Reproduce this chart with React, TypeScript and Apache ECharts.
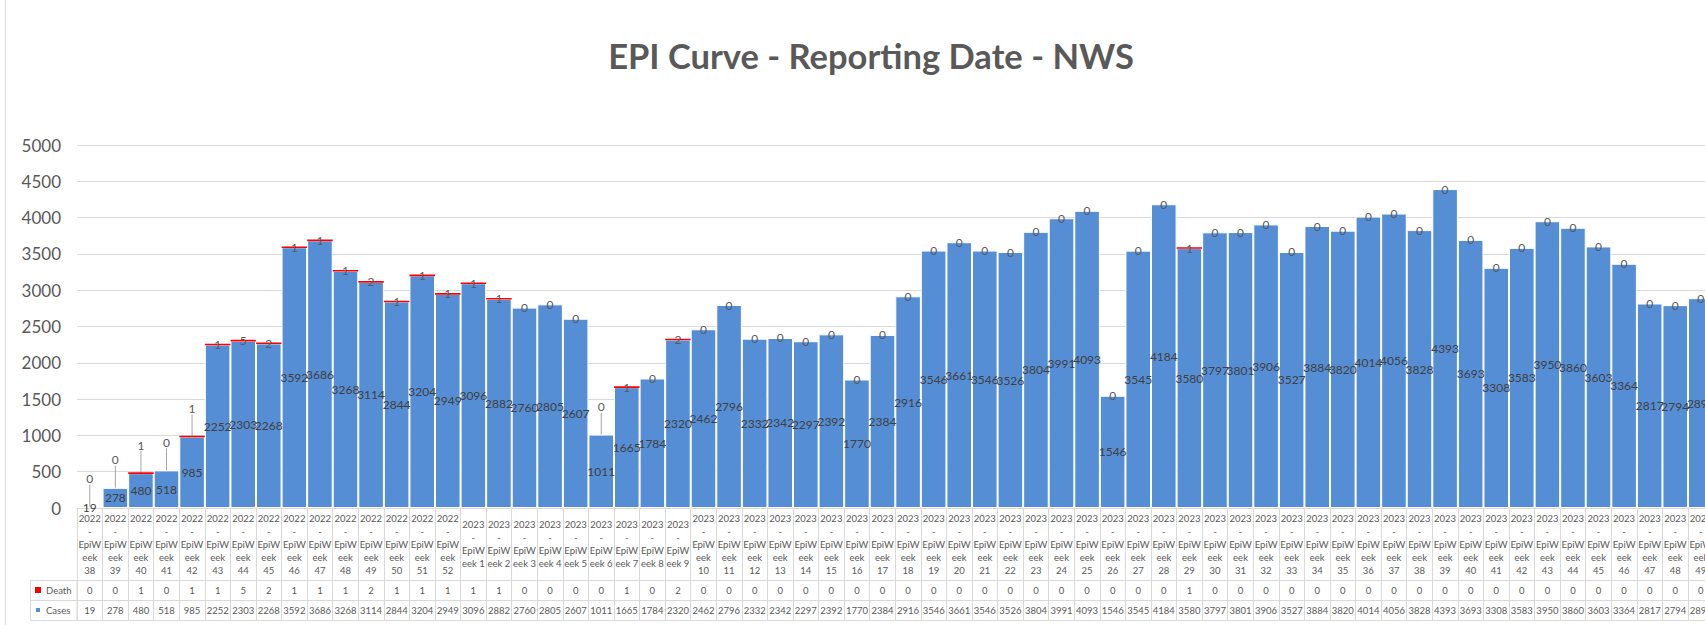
import React, { useEffect, useRef } from "react";
import * as echarts from "echarts";

const categories: string[] = [
  "2022-EpiWeek 38", "2022-EpiWeek 39", "2022-EpiWeek 40", "2022-EpiWeek 41", "2022-EpiWeek 42",
  "2022-EpiWeek 43", "2022-EpiWeek 44", "2022-EpiWeek 45", "2022-EpiWeek 46", "2022-EpiWeek 47",
  "2022-EpiWeek 48", "2022-EpiWeek 49", "2022-EpiWeek 50", "2022-EpiWeek 51", "2022-EpiWeek 52",
  "2023-EpiWeek 1", "2023-EpiWeek 2", "2023-EpiWeek 3", "2023-EpiWeek 4", "2023-EpiWeek 5",
  "2023-EpiWeek 6", "2023-EpiWeek 7", "2023-EpiWeek 8", "2023-EpiWeek 9", "2023-EpiWeek 10",
  "2023-EpiWeek 11", "2023-EpiWeek 12", "2023-EpiWeek 13", "2023-EpiWeek 14", "2023-EpiWeek 15",
  "2023-EpiWeek 16", "2023-EpiWeek 17", "2023-EpiWeek 18", "2023-EpiWeek 19", "2023-EpiWeek 20",
  "2023-EpiWeek 21", "2023-EpiWeek 22", "2023-EpiWeek 23", "2023-EpiWeek 24", "2023-EpiWeek 25",
  "2023-EpiWeek 26", "2023-EpiWeek 27", "2023-EpiWeek 28", "2023-EpiWeek 29", "2023-EpiWeek 30",
  "2023-EpiWeek 31", "2023-EpiWeek 32", "2023-EpiWeek 33", "2023-EpiWeek 34", "2023-EpiWeek 35",
  "2023-EpiWeek 36", "2023-EpiWeek 37", "2023-EpiWeek 38", "2023-EpiWeek 39", "2023-EpiWeek 40",
  "2023-EpiWeek 41", "2023-EpiWeek 42", "2023-EpiWeek 43", "2023-EpiWeek 44", "2023-EpiWeek 45",
  "2023-EpiWeek 46", "2023-EpiWeek 47", "2023-EpiWeek 48", "2023-EpiWeek 49",
];

const cases: number[] = [
  19, 278, 480, 518, 985, 2252, 2303, 2268, 3592, 3686, 3268, 3114, 2844, 3204, 2949,
  3096, 2882, 2760, 2805, 2607, 1011, 1665, 1784, 2320,
  2462, 2796, 2332, 2342, 2297, 2392, 1770, 2384,
  2916, 3546, 3661, 3546, 3526, 3804, 3991, 4093, 1546, 3545, 4184, 3580, 3797, 3801, 3906, 3527, 3884,
  3820, 4014, 4056, 3828, 4393, 3693, 3308, 3583, 3950, 3860, 3603, 3364, 2817, 2794, 2890,
];

const deaths: number[] = [
  0, 0, 1, 0, 1, 1, 5, 2, 1, 1, 1, 2, 1, 1, 1,
  1, 1, 0, 0, 0, 0, 1, 0, 2,
  0, 0, 0, 0, 0, 0, 0, 0,
  0, 0, 0, 0, 0, 0, 0, 0, 0, 0, 0, 1, 0, 0, 0, 0, 0,
  0, 0, 0, 0, 0, 0, 0, 0, 0, 0, 0, 0, 0, 0, 0,
];

const TITLE = "EPI Curve - Reporting Date - NWS";
const Y_MIN = 0;
const Y_MAX = 5000;
const Y_STEP = 500;

const FONT = "Lato";
const GRID_COLOR = "#d9d9d9";
const TEXT_COLOR = "#595959";

function wrapCategory(c: string): string {
  const [year, rest] = c.split("-");
  const week = rest.replace("EpiWeek ", "");
  return week.length < 2
    ? `${year}\n-\nEpiW\neek ${week}`
    : `${year}\n-\nEpiW\neek\n${week}`;
}

export default function App() {
  const ref = useRef<HTMLDivElement>(null);

  useEffect(() => {
    const chart = echarts.init(ref.current!, null, { renderer: "svg" });
    const tableLabel = {
      interval: 0,
      verticalAlign: "middle" as const,
      fontSize: 9.5,
      color: TEXT_COLOR,
      fontFamily: FONT,
    };
    chart.setOption({
      animation: false,
      backgroundColor: "#ffffff",
      title: {
        text: TITLE,
        left: 866,
        top: 33,
        textAlign: "center",
        textStyle: { fontSize: 34.5, fontWeight: "bold", color: TEXT_COLOR, fontFamily: FONT },
      },
      legend: {
        data: ["Death", "Cases"],
        orient: "vertical",
        left: 34,
        top: 584,
        padding: 0,
        itemWidth: 6,
        itemHeight: 6,
        itemGap: 8,
        icon: "rect",
        textStyle: { fontSize: 9.5, color: TEXT_COLOR, fontFamily: FONT, lineHeight: 12 },
      },
      grid: { left: 77, right: 6.4, top: 145, bottom: 117, containLabel: false },
      yAxis: {
        type: "value",
        min: Y_MIN,
        max: Y_MAX,
        interval: Y_STEP,
        axisLine: { show: false },
        axisTick: { show: false },
        axisLabel: {
          fontSize: 17,
          color: TEXT_COLOR,
          fontFamily: FONT,
          margin: 16,
          formatter: (v: number) => String(v),
        },
        splitLine: { lineStyle: { color: GRID_COLOR, width: 1.2 } },
      },
      xAxis: [
        {
          type: "category",
          data: categories,
          position: "bottom",
          axisLine: { lineStyle: { color: GRID_COLOR } },
          axisTick: { show: true, interval: 0, length: 112, lineStyle: { color: GRID_COLOR } },
          axisLabel: { ...tableLabel, margin: 36, lineHeight: 13, formatter: (v: string) => wrapCategory(v) },
        },
        {
          type: "category",
          data: categories,
          position: "bottom",
          offset: 72,
          axisLine: { lineStyle: { color: GRID_COLOR } },
          axisTick: { show: false },
          axisLabel: { ...tableLabel, margin: 10, formatter: (_v: string, i: number) => String(deaths[i]) },
        },
        {
          type: "category",
          data: categories,
          position: "bottom",
          offset: 92,
          axisLine: { lineStyle: { color: GRID_COLOR } },
          axisTick: { show: false },
          axisLabel: { ...tableLabel, margin: 10, formatter: (_v: string, i: number) => String(cases[i]) },
        },
        {
          type: "category",
          data: categories,
          position: "bottom",
          offset: 112,
          axisLine: { lineStyle: { color: GRID_COLOR } },
          axisTick: { show: false },
          axisLabel: { show: false },
        },
      ],
      series: [
        {
          name: "Cases",
          type: "bar",
          stack: "total",
          xAxisIndex: 0,
          barCategoryGap: "0%",
          data: cases,
          itemStyle: { color: "#558ED5", borderColor: "#ffffff", borderWidth: 1 },
          label: {
            show: true,
            position: "inside",
            color: "#404040",
            fontSize: 12,
            fontFamily: FONT,
          },
        },
        {
          name: "Death",
          type: "bar",
          stack: "total",
          xAxisIndex: 0,
          barCategoryGap: "0%",
          data: deaths.map((v) => ({ value: v, itemStyle: { borderWidth: v > 0 ? 1.6 : 0 } })),
          itemStyle: { color: "#FF0000", borderColor: "#FF0000" },
          label: {
            show: true,
            position: "inside",
            color: TEXT_COLOR,
            fontSize: 12,
            fontFamily: FONT,
          },
          labelLine: { show: true, lineStyle: { color: "#a6a6a6", width: 1 } },
          labelLayout: (params: any) =>
            cases[params.dataIndex] < 1200 ? { dy: -28 } : {},
        },
      ],
      graphic: [
        {
          type: "rect",
          shape: { x: 30.5, y: 580.5, width: 46.5, height: 40 },
          style: { fill: "none", stroke: GRID_COLOR, lineWidth: 1 },
          silent: true,
        },
        {
          type: "line",
          shape: { x1: 30.5, y1: 600.5, x2: 77, y2: 600.5 },
          style: { stroke: GRID_COLOR, lineWidth: 1 },
          silent: true,
        },
        {
          type: "line",
          shape: { x1: 5.5, y1: 0, x2: 5.5, y2: 625 },
          style: { stroke: GRID_COLOR, lineWidth: 1 },
          silent: true,
        },
      ],
    });
    return () => chart.dispose();
  }, []);

  return (
    <div
      style={{
        position: "fixed",
        left: 0,
        top: 0,
        width: 1705,
        height: 625,
        overflow: "hidden",
        background: "#ffffff",
      }}
    >
      <div ref={ref} style={{ width: 1720, height: 625 }} />
    </div>
  );
}
